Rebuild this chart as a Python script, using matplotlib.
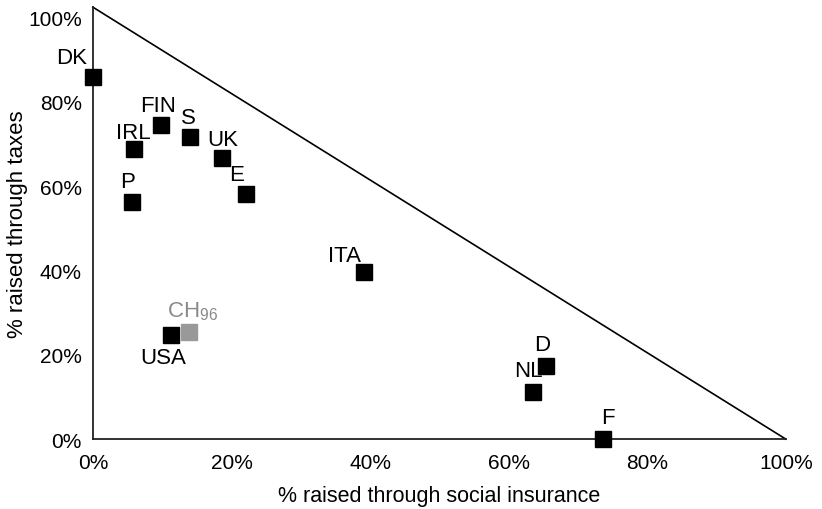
import numpy as np
from matplotlib import pyplot as plt

plt.rcParams['font.family'] = ['Liberation Sans', 'DejaVu Sans']
plt.rcParams['mathtext.default'] = 'regular'

# share of financing: social insurance (x) vs taxes (y), in percent
countries = ['DK', 'FIN', 'S', 'IRL', 'UK', 'E', 'P', 'ITA', 'USA', 'D', 'NL', 'F']
social = [0.0, 9.8, 14.0, 5.9, 18.6, 22.1, 5.6, 39.1, 11.3, 65.4, 63.5, 73.6]
taxes = [85.8, 74.4, 71.6, 68.7, 66.6, 58.1, 56.2, 39.6, 24.6, 17.3, 11.1, 0.0]

# label offsets in pixels (dx, dy) relative to the marker
offsets = {'DK': (-21, 20), 'FIN': (-3, 20), 'S': (-1, 20), 'IRL': (0, 17),
           'UK': (1, 19), 'E': (-9, 20), 'P': (-4, 21), 'ITA': (-19, 17),
           'USA': (-8, -22), 'D': (-4, 22), 'NL': (-5, 22), 'F': (5, 22)}

ch_social, ch_taxes = 13.9, 25.4

fig = plt.figure(figsize=(8.22, 5.10), dpi=100)
ax = fig.add_axes([0.113, 0.137, 0.843, 0.847])

ax.plot(social, taxes, 's', color='black', markersize=12, clip_on=False, zorder=3)
ax.plot([ch_social], [ch_taxes], 's', color='#999999', markersize=12, zorder=3)

for c, x, y in zip(countries, social, taxes):
    dx, dy = offsets[c]
    ax.annotate(c, (x, y), xytext=(dx, dy), textcoords='offset pixels',
                ha='center', va='center', fontsize=16)
ax.annotate('CH$_{96}$', (ch_social, ch_taxes), xytext=(3, 21), textcoords='offset pixels',
            ha='center', va='center', fontsize=16, color='#8a8a8a')

# boundary: social + taxes = 100%
ytop = 102.4
ax.plot([0, 100], [ytop, 0], color='black', lw=1.2, clip_on=False)

ax.set_xlim(0, 100)
ax.set_ylim(0, ytop)
ax.set_xticks(np.arange(0, 101, 20))
ax.set_yticks(np.arange(0, 101, 20))
ax.set_xticklabels([f'{v}%' for v in range(0, 101, 20)])
ax.set_yticklabels([f'{v}%' for v in range(0, 101, 20)])
ax.tick_params(axis='x', length=0, labelsize=15, pad=10)
ax.tick_params(axis='y', length=0, labelsize=15, pad=8)

for s in ['top', 'right']:
    ax.spines[s].set_visible(False)
for s in ['left', 'bottom']:
    ax.spines[s].set_linewidth(1.3)
    ax.spines[s].set_color('#222222')

ax.set_xlabel('% raised through social insurance', fontsize=15.5, labelpad=9)
ax.set_ylabel('% raised through taxes', fontsize=16, labelpad=8)
ax.yaxis.set_label_coords(-0.093, 0.5)

plt.savefig('out.png', dpi=100)
